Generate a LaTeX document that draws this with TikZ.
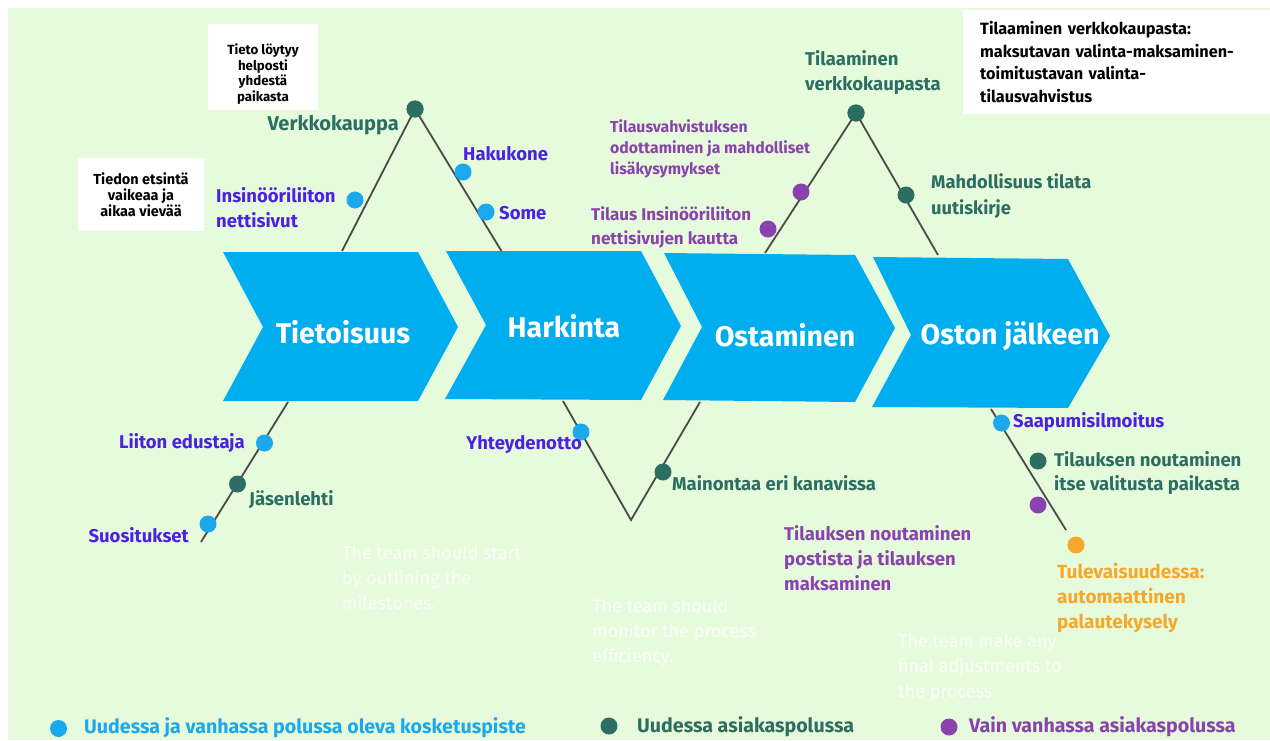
\documentclass[tikz,border=0pt]{standalone}
\usepackage{fontspec}
\setmainfont{Fira Sans}
\usepackage{xcolor}
\usetikzlibrary{positioning, calc}
\definecolor{bggreen}{HTML}{E6FBDC}
\definecolor{chevblue}{HTML}{00AEEF}
\definecolor{pathgray}{HTML}{4A4A4A}
\definecolor{touchblue}{HTML}{1CA8EC}
\definecolor{labelviolet}{HTML}{4B22E3}
\definecolor{newgreen}{HTML}{2E6E62}
\definecolor{oldpurple}{HTML}{8A43AE}
\definecolor{futureorange}{HTML}{F6A82A}

\begin{document}
\begin{tikzpicture}[
    x=1pt, y=-1pt,
    chev/.style={fill=chevblue, draw=none},
    phase/.style={font=\fontsize{28.5}{32}\selectfont\bfseries, text=white, inner sep=0pt},
    pathline/.style={draw=pathgray, line width=1.8pt},
    dot/.style={circle, inner sep=0pt, minimum size=17pt},
    bothdot/.style={dot, fill=touchblue},
    newdot/.style={dot, fill=newgreen},
    olddot/.style={dot, fill=oldpurple},
    futuredot/.style={dot, fill=futureorange},
    lbl/.style={font=\fontsize{18.5}{25}\selectfont\bfseries, align=left, inner sep=0pt},
    small/.style={lbl, font=\fontsize{15.8}{21}\selectfont\bfseries},
    note/.style={fill=white, align=center, text=black, inner sep=0pt, font=\fontsize{13.3}{15.5}\selectfont\bfseries},
    faded/.style={lbl, font=\fontsize{18}{25}\selectfont, text=white, opacity=0.8},
    legend/.style={lbl, font=\fontsize{19.6}{22}\selectfont\bfseries}
]
\useasboundingbox (0,0) rectangle (1270,740);
\fill[white] (0,0) rectangle (1270,740);
\fill[bggreen] (8,8) rectangle (1270,740);

% Path ends on the chevrons
\coordinate (awTL) at (342,251);
\coordinate (awTR) at (502,252);
\coordinate (awB1) at (288,402);
\coordinate (awB2) at (201,542);
\coordinate (coB1) at (563,401);
\coordinate (coV)  at (631,520);
\coordinate (coB2) at (700,402);
\coordinate (puTL) at (765,253);
\coordinate (puTR) at (938,255);
\coordinate (afB1) at (991,409);
\coordinate (afB2) at (1066,530);

% Apex touchpoints
\node[newdot] (verkko) at (415,109) {};
\node[newdot] (tilaa) at (856,113) {};

% Journey paths
\draw[pathline] (awTL) -- (verkko.center) -- (awTR);
\draw[pathline] (awB1) -- (awB2);
\draw[pathline] (coB1) -- (coV) -- (coB2);
\draw[pathline] (puTL) -- (tilaa.center) -- (puTR);
\draw[pathline] (afB1) -- (afB2);
\node[newdot] at (verkko) {};
\node[newdot] at (tilaa) {};

% Phases
\fill[chev] (223,252) -- (418,252) -- (458,327) -- (418,401) -- (223,401) -- (263,327) -- cycle;
\fill[chev] (446,251) -- (641,251) -- (681,326) -- (641,400) -- (445,399) -- (486,325) -- cycle;
\fill[chev] (664,253) -- (855,255) -- (895,328) -- (855,402) -- (663,400) -- (702,327) -- cycle;
\fill[chev] (873,257) -- (1068,259) -- (1110,336) -- (1068,408) -- (872,407) -- (911,335) -- cycle;
\node[phase] (tietoisuus) at (343,332) {Tietoisuus};
\node[phase] (harkinta) at (564,326) {Harkinta};
\node[phase] (ostaminen) at (785,335) {Ostaminen};
\node[phase] (jalkeen) at (1010,336) {Oston jälkeen};

% Notes
\node[note, minimum width=110pt, minimum height=86pt] (helppobox) at (263,67) {};
\node[note, fill=none] (helppo) at (263,74) {Tieto löytyy\\helposti\\yhdestä\\paikasta};
\node[note, minimum width=126pt, minimum height=73pt, font=\fontsize{14.5}{16}\selectfont\bfseries] (vaikea) at (141,194.5) {Tiedon etsintä\\vaikeaa ja\\aikaa vievää};
\node[note, anchor=north west, align=left, inner xsep=17pt, text width=273pt, minimum height=104pt,
      font=\fontsize{16.3}{22.5}\selectfont\bfseries] (tilausnote) at (963,10)
      {Tilaaminen verkkokaupasta:\\maksutavan valinta-maksaminen-\\toimitustavan valinta-\\tilausvahvistus};

% Tietoisuus
\node[lbl, text=newgreen, anchor=east, font=\fontsize{20}{25}\selectfont\bfseries] (verkkolbl) at (399,125) {Verkkokauppa};
\node[bothdot] (insdot) at (355,200) {};
\node[lbl, text=labelviolet, anchor=west] (inslbl) at (216,207.5) {Insinööriliiton\\nettisivut};
\node[bothdot] (hakudot) at (463,172) {};
\node[lbl, text=labelviolet, anchor=west] (hakulbl) at (463,154) {Hakukone};
\node[bothdot] (somedot) at (486,212) {};
\node[lbl, text=labelviolet, anchor=west] (somelbl) at (499,213) {Some};
\node[bothdot] (liitondot) at (264.5,443) {};
\node[lbl, text=labelviolet, anchor=east] (liitonlbl) at (245,443) {Liiton edustaja};
\node[newdot] (jasendot) at (237.5,484) {};
\node[lbl, text=newgreen, anchor=west] (jasenlbl) at (249,500) {Jäsenlehti};
\node[bothdot] (suosdot) at (208,524) {};
\node[lbl, text=labelviolet, anchor=east] (suoslbl) at (189,535) {Suositukset};

% Harkinta
\node[bothdot] (yhtdot) at (581,432) {};
\node[lbl, text=labelviolet, anchor=east] (yhtlbl) at (582,445) {Yhteydenotto};
\node[newdot] (maindot) at (663,472) {};
\node[lbl, text=newgreen, anchor=west] (mainlbl) at (672,483) {Mainontaa eri kanavissa};

% Ostaminen
\node[lbl, text=newgreen, anchor=west] (tilaalbl) at (805,73) {Tilaaminen\\verkkokaupasta};
\node[olddot] (vahvdot) at (801,192) {};
\node[small, text=oldpurple, anchor=west] (vahvlbl) at (610,148.5) {Tilausvahvistuksen\\odottaminen ja mahdolliset\\lisäkysymykset};
\node[olddot] (tilausdot) at (768,229) {};
\node[small, text=oldpurple, anchor=west, font=\fontsize{17}{24}\selectfont\bfseries] (tilauslbl) at (591,227) {Tilaus Insinööriliiton\\nettisivujen kautta};
\node[newdot] (mahddot) at (906,195) {};
\node[lbl, text=newgreen, anchor=west, font=\fontsize{18.3}{26}\selectfont\bfseries] (mahdlbl) at (931,196) {Mahdollisuus tilata\\uutiskirje};
\node[lbl, text=oldpurple, anchor=west] (postilbl) at (784,558) {Tilauksen noutaminen\\postista ja tilauksen\\maksaminen};

% Oston jalkeen
\node[bothdot] (saapdot) at (1001.5,423) {};
\node[lbl, text=labelviolet, anchor=west] (saaplbl) at (1013,422) {Saapumisilmoitus};
\node[newdot] (noutdot) at (1038,461) {};
\node[lbl, text=newgreen, anchor=west, font=\fontsize{18.5}{24.5}\selectfont\bfseries] (noutlbl) at (1054,473) {Tilauksen noutaminen\\itse valitusta paikasta};
\node[olddot] (postdot) at (1038,505) {};
\node[futuredot] (tuledot) at (1076,545) {};
\node[lbl, text=futureorange, anchor=west, font=\fontsize{19}{25}\selectfont\bfseries] (tulelbl) at (1057,597.5) {Tulevaisuudessa:\\automaattinen\\palautekysely};

% Faded placeholder texts
\node[faded, anchor=west] (fade1) at (342,578) {The team should start\\by outlining the\\milestones.};
\node[faded, anchor=west] (fade2) at (592,633) {The team should\\monitor the process\\efficiency.};
\node[faded, anchor=west] (fade3) at (898,668) {The team make any\\final adjustments to\\the process.};

% Legend
\node[bothdot] (legboth) at (58.5,728.5) {};
\node[legend, text=touchblue, anchor=west] (legbothlbl) at (84,728) {Uudessa ja vanhassa polussa oleva kosketuspiste};
\node[newdot] (legnew) at (609,726) {};
\node[legend, text=newgreen, anchor=west] (legnewlbl) at (637,727) {Uudessa asiakaspolussa};
\node[olddot] (legold) at (949,727) {};
\node[legend, text=oldpurple, anchor=west] (legoldlbl) at (969,727) {Vain vanhassa asiakaspolussa};

\end{tikzpicture}
\end{document}
